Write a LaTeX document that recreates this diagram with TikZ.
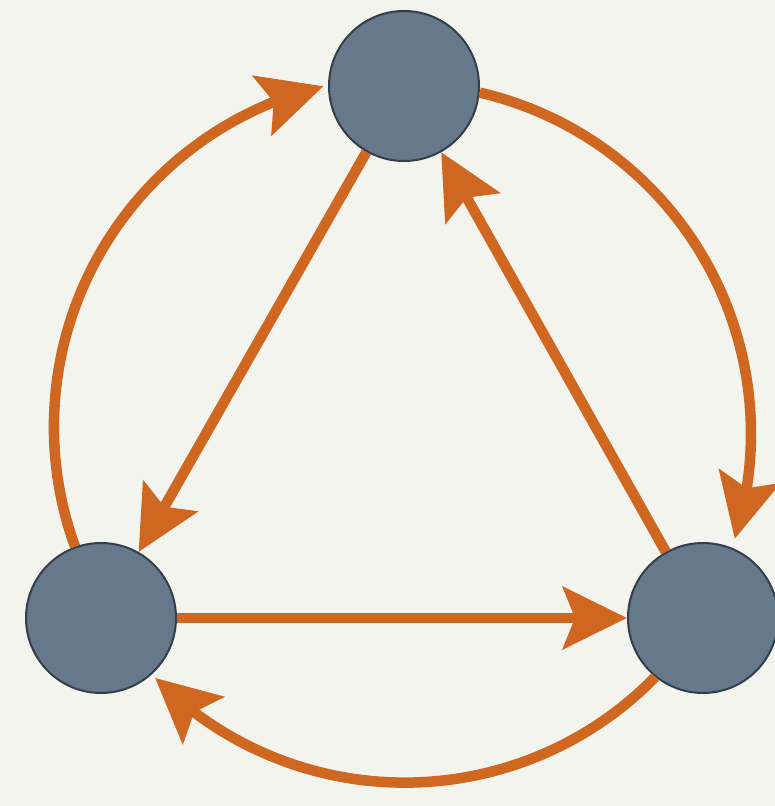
\documentclass[tikz,border=0pt]{standalone}
\usetikzlibrary{arrows.meta,bending}
\definecolor{bg}{HTML}{F4F4EF}
\definecolor{nodefill}{HTML}{66798B}
\definecolor{nodeline}{HTML}{323E4A}
\definecolor{arrowc}{HTML}{D06721}
\begin{document}
\begin{tikzpicture}[x=1pt,y=1pt,
  vert/.style={circle,minimum size=150pt,inner sep=0pt,fill=nodefill,draw=nodeline,line width=2pt},
  link/.style={draw=arrowc,line width=10.5pt,-{Stealth[length=64pt,width=62pt,inset=12pt,flex]}},
  ]
\fill[bg] (0,0) rectangle (775,806);
\useasboundingbox (0,0) rectangle (775,806);
\node[vert] (top) at (404,720) {};
\node[vert] (bl) at (101,188) {};
\node[vert] (br) at (703,188) {};
\draw[link] (top) -- (bl);
\draw[link] (br) -- (top);
\draw[link] (bl) -- (br);
\draw[link] (bl.110) arc[start angle=200, end angle=103.3, radius=350];
\draw[link] (top.-5) arc[start angle=77, end angle=-17.5, radius=350];
\draw[link] (br.231) arc[start angle=-44.3, end angle=-135.5, radius=350];
\end{tikzpicture}
\end{document}
